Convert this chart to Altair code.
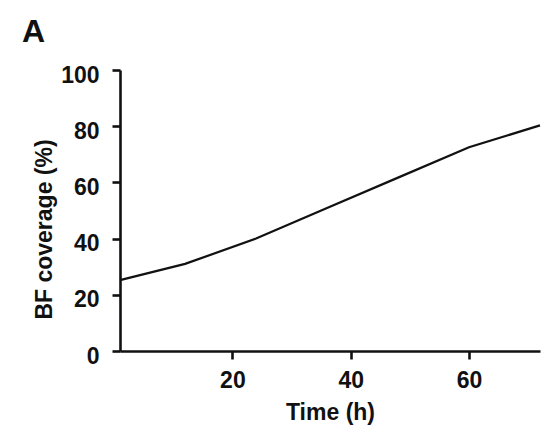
import altair as alt
import pandas as pd

time_h = [1, 12, 24, 36, 48, 60, 72]
coverage = [25.2, 31.0, 40.0, 50.9, 61.7, 72.5, 80.3]
x_ticks = [20, 40, 60]
y_ticks = [0, 20, 40, 60, 80, 100]

df = pd.DataFrame({"time": time_h, "cov": coverage})

FONT = "Liberation Sans"

chart = alt.Chart(df).mark_line(color="#111111", strokeWidth=2.2).encode(
    x=alt.X("time:Q",
            scale=alt.Scale(domain=[1, 72], nice=False, zero=False),
            axis=alt.Axis(values=x_ticks, title="Time (h)", grid=False,
                          labelPadding=10, titlePadding=9)),
    y=alt.Y("cov:Q",
            scale=alt.Scale(domain=[0, 100], nice=False),
            axis=alt.Axis(values=y_ticks, title="BF coverage (%)", grid=False,
                          labelPadding=13, labelOffset=5, titlePadding=4,
                          titleY=159)),
).properties(
    width=420, height=281,
    autosize=alt.AutoSizeParams(type="none"),
    padding={"left": 112, "top": 62, "right": 11, "bottom": 85},
    title=alt.TitleParams("A", anchor="start", frame="group", dx=-98,
                          fontSize=32, font=FONT, fontWeight="bold",
                          color="#111111", offset=15),
).configure_view(stroke=None).configure_axis(
    domainColor="#111111", domainWidth=2.6, tickColor="#111111",
    tickWidth=2.6, tickSize=8, labelFont=FONT, labelFontSize=23,
    labelFontWeight="bold", labelColor="#111111", titleFont=FONT,
    titleFontSize=23, titleFontWeight="bold", titleColor="#111111",
    labelFlush=False,
)

chart.save("out.html", embed_options={"renderer": "svg", "actions": False})
